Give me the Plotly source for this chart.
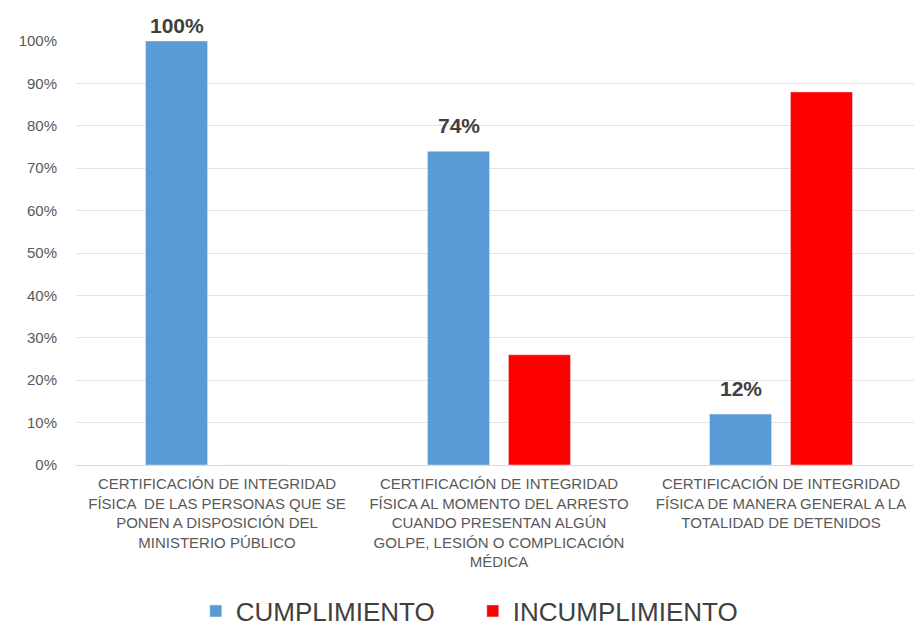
import plotly.graph_objects as go

categories = [
    "CERTIFICACIÓN DE INTEGRIDAD<br>FÍSICA  DE LAS PERSONAS QUE SE<br>PONEN A DISPOSICIÓN DEL<br>MINISTERIO PÚBLICO",
    "CERTIFICACIÓN DE INTEGRIDAD<br>FÍSICA AL MOMENTO DEL ARRESTO<br>CUANDO PRESENTAN ALGÚN<br>GOLPE, LESIÓN O COMPLICACIÓN<br>MÉDICA",
    "CERTIFICACIÓN DE INTEGRIDAD<br>FÍSICA DE MANERA GENERAL A LA<br>TOTALIDAD DE DETENIDOS",
]
cumplimiento = [100, 74, 12]
incumplimiento = [0, 26, 88]
y_ticks = [0, 10, 20, 30, 40, 50, 60, 70, 80, 90, 100]

fig = go.Figure()
fig.add_trace(go.Bar(
    x=categories, y=cumplimiento, name="CUMPLIMIENTO",
    marker=dict(color="#5B9BD5"),
))
fig.add_trace(go.Bar(
    x=categories, y=incumplimiento, name="INCUMPLIMIENTO",
    marker=dict(color="#FF0000"),
))

# data labels over the blue bars (blue bar sits ~40px left of the category centre)
# the 100% label is squeezed down against the top of the chart, like in the original
for cat, val in zip(categories, cumplimiento):
    fig.add_annotation(
        x=cat, y=val, text=f"<b>{val}%</b>", showarrow=False,
        xshift=-40, yshift=2 if val >= 100 else 12, yanchor="bottom",
        font=dict(size=21, color="#404040", family="Liberation Sans"),
    )

# page body has an 8px margin, so the figure is a little smaller than the window
fig.update_layout(
    width=914, height=623,
    barmode="group", bargap=0.426, bargroupgap=0.233,
    plot_bgcolor="white", paper_bgcolor="white",
    margin=dict(l=68, r=0, t=33, b=166, autoexpand=False),
    font=dict(family="Liberation Sans, sans-serif", color="#595959"),
    legend=dict(
        orientation="h", x=0.469, xanchor="center", xref="paper",
        y=-0.289, yanchor="top",
        font=dict(size=26, color="#404040"),
        itemwidth=30, entrywidth=232, traceorder="normal",
    ),
    showlegend=True,
)
fig.update_xaxes(
    range=[-0.5, 2.5],
    tickfont=dict(size=15, color="#595959"),
    showline=False, ticks="", tickangle=0,
    ticklabelstandoff=8,
)
fig.update_yaxes(
    range=[0, 100],
    tickvals=y_ticks,
    ticktext=[f"{v}%" for v in y_ticks],
    tickfont=dict(size=15, color="#595959"),
    showgrid=True, gridcolor="#E3E3E3", gridwidth=1,
    zeroline=True, zerolinecolor="#D9D9D9", zerolinewidth=1,
    ticklabelstandoff=18,
)

fig.write_html("out.html")
